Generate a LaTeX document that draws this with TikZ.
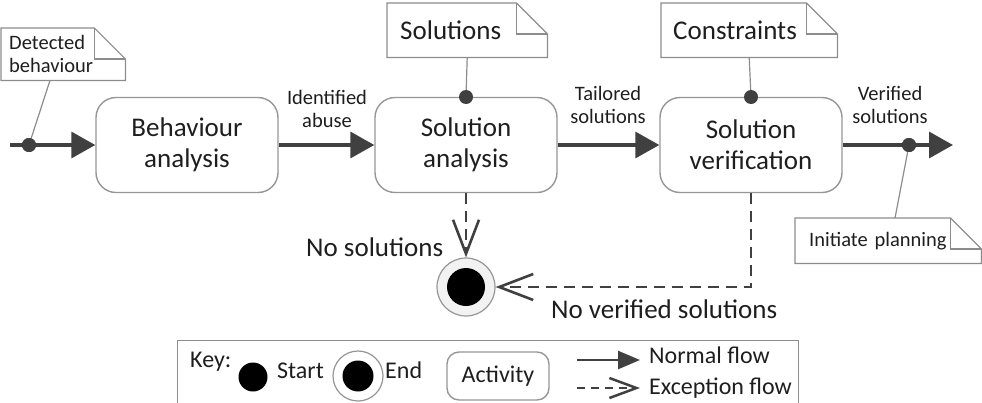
\documentclass[tikz,border=0pt]{standalone}
\usepackage{fontspec}
\setmainfont{Carlito}
\usepackage{tikz}
\usetikzlibrary{arrows.meta,positioning,calc}
\definecolor{flowgray}{RGB}{64,64,64}
\definecolor{boxgray}{RGB}{150,150,150}
\definecolor{notegray}{RGB}{140,140,140}
\definecolor{textgray}{RGB}{30,30,30}
\definecolor{ringfill}{RGB}{242,242,242}
\newcommand{\bigtext}{\fontsize{27}{31}\selectfont}
\newcommand{\smalltext}{\fontsize{20.5}{23}\selectfont}
\newcommand{\keytext}{\fontsize{24}{27}\selectfont}
\newlength{\foldsize}
\setlength{\foldsize}{31pt}
% note outline with a folded corner
\newcommand{\dogear}[1]{%
  \draw[notebox] (#1.south west) -- (#1.north west) -- ([xshift=-\foldsize]#1.north east)
    -- ([yshift=-\foldsize]#1.north east) -- (#1.south east) -- cycle;
  \draw[notebox] ([xshift=-\foldsize]#1.north east) |- ([yshift=-\foldsize]#1.north east);}

\begin{document}
\begin{tikzpicture}[x=1pt, y=-1pt, text=textgray,
        activity/.style={rectangle, draw=boxgray, line width=1.4pt, rounded corners=20pt,
                         minimum width=182pt, minimum height=95pt, align=center, font=\bigtext},
        note/.style={rectangle, anchor=north west, inner ysep=0pt, align=left},
        notebox/.style={draw=notegray, line width=1.2pt},
        tie/.style={draw=notegray, line width=1.2pt},
        dot/.style={circle, fill=flowgray, inner sep=0pt, minimum size=14pt},
        flow/.style={-{Triangle[length=24pt, width=26pt]}, line width=3.5pt, flowgray},
        exc/.style={-{Straight Barb[length=34pt, width=26pt]}, line width=2.6pt, flowgray,
                    dash pattern=on 11pt off 7pt},
        lbl/.style={align=center, font=\smalltext, inner sep=0pt},
        txt/.style={anchor=base west, inner sep=0pt},
        endring/.style={circle, draw=boxgray, fill=ringfill, line width=1.2pt, minimum size=58pt, inner sep=0pt},
        enddot/.style={circle, fill=black, minimum size=38pt, inner sep=0pt}
    ]
    \useasboundingbox (0,0) rectangle (982,402);

    % activities
    \node[activity] (beh) at (187,145) {Behaviour\\analysis};
    \node[activity] (solan) at (466,145) {Solution\\analysis};
    \node[activity] (solver) at (751,145) {Solution\\verification};

    % notes
    \node[note, text width=108pt, inner xsep=8pt, minimum height=52pt, font=\smalltext] (detected) at (1,28) {Detected\\behaviour};
    \dogear{detected}
    \node[note, text width=134pt, inner xsep=13pt, minimum height=54pt, font=\bigtext] (solnote) at (387,3) {Solutions};
    \dogear{solnote}
    \node[note, text width=152pt, inner xsep=12pt, minimum height=54pt, font=\bigtext] (connote) at (661,3) {Constraints};
    \dogear{connote}
    \node[note, text width=158pt, inner xsep=14pt, minimum height=45pt, font=\smalltext] (initnote) at (795,218) {Initiate planning};
    \dogear{initnote}

    % normal flow
    \coordinate (in) at (10,145);
    \coordinate (out) at (953,145);
    \node[dot] (d1) at (29,145) {};
    \node[dot] (d2) at (466,97) {};
    \node[dot] (d3) at (751,97) {};
    \node[dot] (d4) at (909,145) {};
    \draw[tie] (detected.south west) ++(49,0) -- (d1);
    \draw[tie] (solnote.south) -- (d2);
    \draw[tie] (connote.south) -- (d3);
    \draw[tie] (initnote.north west) ++(100,0) -- (d4);
    \draw[flow] (in) -- (beh);
    \draw[flow] (beh) -- (solan);
    \draw[flow] (solan) -- (solver);
    \draw[flow] (solver) -- (out);
    \node[dot] at (d1) {};
    \node[dot] at (d4) {};

    \node[lbl] (abuse) at (327,109) {Identified\\abuse};
    \node[lbl] (tailored) at (608,105) {Tailored\\solutions};
    \node[lbl] (verified) at (890,105) {Verified\\solutions};

    % exception flow
    \node[endring] (finish) at (466,287) {};
    \node[enddot] (finishdot) at (finish) {};
    \draw[exc] (solan.south) -- (finish.north);
    \draw[exc] (solver.south) |- (finish.east);
    \node[txt, font=\bigtext] (nosol) at (306,256) {No solutions};
    \node[txt, font=\bigtext] (noverif) at (551,318) {No verified solutions};

    % key
    \node[draw=notegray, line width=1.2pt, minimum width=621pt, minimum height=70pt,
          anchor=north west, inner sep=0pt] (key) at (177,340) {};
    \node[txt, font=\keytext] (keylbl) at (190,367) {Key:};
    \node[enddot, minimum size=29pt] (keystart) at (253,377) {};
    \node[txt, font=\keytext] (startlbl) at (277,378) {Start};
    \node[endring, fill=white, minimum size=50pt] (keyend) at (358,376) {};
    \node[enddot, minimum size=31pt] (keyenddot) at (keyend) {};
    \node[txt, font=\keytext] (endlbl) at (385,378) {End};
    \node[activity, minimum width=102pt, minimum height=48pt, rounded corners=12pt, font=\keytext] (keyact) at (498,376) {Activity};
    \coordinate (n0) at (577,360);
    \coordinate (n1) at (640,360);
    \coordinate (e0) at (577,388);
    \coordinate (e1) at (640,388);
    \draw[flow, line width=2.5pt, -{Triangle[length=22pt, width=18pt]}] (n0) -- (n1);
    \draw[exc, line width=2.5pt, dash pattern=on 8pt off 6pt, -{Straight Barb[length=27pt, width=20pt]}] (e0) -- (e1);
    \node[txt, font=\keytext] (normlbl) at (649,363) {Normal flow};
    \node[txt, font=\keytext] (exclbl) at (649,394) {Exception flow};
\end{tikzpicture}
\end{document}
